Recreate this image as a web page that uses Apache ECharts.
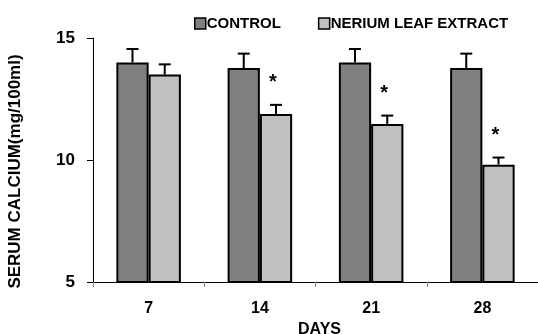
<!DOCTYPE html>
<html><head><meta charset="utf-8">
<script src="https://cdn.jsdelivr.net/npm/echarts@6/dist/echarts.min.js"></script>
<style>html,body{margin:0;padding:0;background:#fff}#c{width:538px;height:334px}</style>
</head><body><div id="c"></div>
<script>
const days = ['7', '14', '21', '28'];
const controlMean = [14.0, 13.77, 14.0, 13.77];
const controlErr = [0.55, 0.59, 0.55, 0.59];
const neriumMean = [13.5, 11.89, 11.48, 9.81];
const neriumErr = [0.42, 0.37, 0.34, 0.29];
const neriumSig = ['', '*', '*', '*'];
const seriesNames = ['CONTROL', 'NERIUM LEAF EXTRACT'];
const yAxisTitle = 'SERUM CALCIUM(mg/100ml)';
const xAxisTitle = 'DAYS';

const FONT = "'Liberation Sans', Arial, sans-serif";
const chart = echarts.init(document.getElementById('c'), null, {renderer: 'canvas'});

function errRender(offsetFrac, sig) {
  return function (params, api) {
    const i = api.value(0);
    const bw = api.size([1, 0])[0];
    const x = api.coord([i, 10])[0] + bw * offsetFrac;
    const yTop = api.coord([i, api.value(1) + api.value(2)])[1];
    const yBase = api.coord([i, api.value(1)])[1];
    const cap = 6;
    const children = [
      {type: 'line', shape: {x1: x, y1: yBase, x2: x, y2: yTop}, style: {stroke: '#000', lineWidth: 2}},
      {type: 'line', shape: {x1: x - cap, y1: yTop, x2: x + cap, y2: yTop}, style: {stroke: '#000', lineWidth: 2}}
    ];
    if (sig && sig[params.dataIndex]) {
      children.push({type: 'text', x: x - 3, y: yTop - 22,
        style: {text: sig[params.dataIndex], fill: '#000', font: 'bold 20px ' + FONT, align: 'center', verticalAlign: 'middle'}});
    }
    return {type: 'group', children: children};
  };
}

const option = {
  animation: false,
  textStyle: {fontFamily: FONT},
  grid: {left: 93, right: 0, top: 38, bottom: 52, containLabel: false, outerBoundsMode: 'none'},
  legend: {
    data: seriesNames, left: 194, top: 16, padding: 0, itemWidth: 11, itemHeight: 11, itemGap: 37, icon: 'rect',
    itemStyle: {borderColor: '#000', borderWidth: 1.5},
    textStyle: {fontFamily: FONT, fontSize: 15, fontWeight: 'bold', color: '#000', padding: [0, 0, 0, -4]}
  },
  xAxis: {
    type: 'category', data: days,
    axisLine: {lineStyle: {color: '#000', width: 1}},
    axisTick: {show: true, length: 5, lineStyle: {color: '#888'}},
    axisLabel: {fontFamily: FONT, fontSize: 16, fontWeight: 'bold', color: '#000', margin: 19},
    name: xAxisTitle, nameLocation: 'middle', nameGap: 37,
    nameTextStyle: {fontFamily: FONT, fontSize: 16, fontWeight: 'bold', color: '#000', padding: [0, 0, 0, 8]}
  },
  yAxis: {
    type: 'value', min: 5, max: 15, interval: 5,
    axisLine: {show: true, lineStyle: {color: '#000', width: 1}},
    axisTick: {show: true, length: 6, lineStyle: {color: '#000'}},
    axisLabel: {fontFamily: FONT, fontSize: 17, fontWeight: 'bold', color: '#000', margin: 18},
    splitLine: {show: false}
  },
  graphic: [{
    type: 'text', x: 15.5, y: 171.5, rotation: Math.PI / 2,
    style: {text: yAxisTitle, font: 'bold 17px ' + FONT, fill: '#000', align: 'center', verticalAlign: 'middle'}
  }],
  series: [
    {name: seriesNames[0], type: 'bar', data: controlMean, barWidth: '29%', barGap: '0%',
      itemStyle: {color: '#808080', borderColor: '#000', borderWidth: 2}},
    {name: seriesNames[1], type: 'bar', data: neriumMean, barWidth: '29%', barGap: '0%',
      itemStyle: {color: '#c0c0c0', borderColor: '#000', borderWidth: 2}},
    {type: 'custom', z: 5, renderItem: errRender(-0.145, null),
      data: controlMean.map((v, i) => [i, v, controlErr[i]])},
    {type: 'custom', z: 5, renderItem: errRender(0.145, neriumSig),
      data: neriumMean.map((v, i) => [i, v, neriumErr[i]])}
  ]
};
chart.setOption(option);
</script></body></html>
